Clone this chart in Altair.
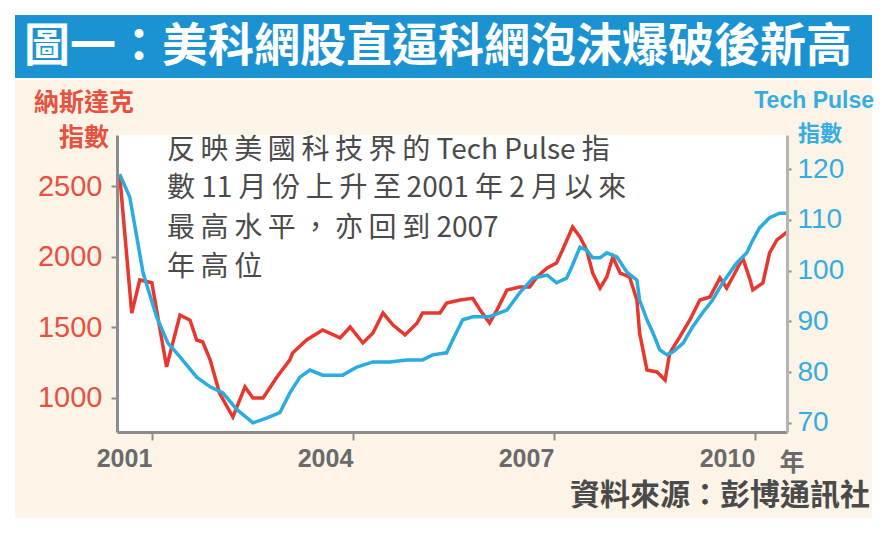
import altair as alt
import pandas as pd

# ---------------- data ----------------
nas_year = [2000.52, 2000.70, 2000.82, 2001.00, 2001.22, 2001.42, 2001.57, 2001.67, 2001.76,
            2001.87, 2002.01, 2002.21, 2002.39, 2002.51, 2002.66, 2002.87, 2003.06, 2003.10,
            2003.31, 2003.55, 2003.81, 2003.96, 2004.15, 2004.30, 2004.45, 2004.60, 2004.78,
            2004.96, 2005.04, 2005.30, 2005.40, 2005.60, 2005.79, 2005.90, 2006.04, 2006.15,
            2006.30, 2006.49, 2006.64, 2006.75, 2006.90, 2007.04, 2007.13, 2007.28, 2007.39,
            2007.49, 2007.58, 2007.69, 2007.79, 2007.88, 2007.99, 2008.13, 2008.24, 2008.28,
            2008.39, 2008.54, 2008.66, 2008.73, 2008.88, 2009.03, 2009.18, 2009.33, 2009.48,
            2009.58, 2009.67, 2009.82, 2009.93, 2009.97, 2010.12, 2010.22, 2010.33, 2010.48]
nas_value = [2578, 1600, 1835, 1815, 1220, 1587, 1550, 1410, 1396,
             1270, 1035, 865, 1078, 1000, 1000, 1150, 1270, 1318,
             1410, 1481, 1425, 1502, 1389, 1460, 1601, 1516, 1446,
             1531, 1601, 1601, 1672, 1693, 1705, 1622, 1531, 1622,
             1764, 1785, 1785, 1856, 1920, 1955, 2047, 2210, 2139,
             2047, 1884, 1778, 1856, 1998, 1884, 1856, 1693, 1460,
             1198, 1184, 1127, 1318, 1432, 1552, 1693, 1715, 1849,
             1778, 1856, 1990, 1835, 1764, 1814, 2026, 2118, 2174]

tp_year = [2000.52, 2000.67, 2000.87, 2001.07, 2001.24, 2001.42, 2001.67, 2001.87, 2002.06,
           2002.27, 2002.51, 2002.72, 2002.91, 2003.06, 2003.21, 2003.36, 2003.55, 2003.85,
           2004.06, 2004.30, 2004.55, 2004.81, 2005.04, 2005.19, 2005.40, 2005.49, 2005.64,
           2005.79, 2006.04, 2006.30, 2006.49, 2006.69, 2006.90, 2007.04, 2007.19, 2007.28,
           2007.39, 2007.49, 2007.58, 2007.69, 2007.79, 2007.94, 2008.09, 2008.24, 2008.28,
           2008.39, 2008.48, 2008.58, 2008.69, 2008.78, 2008.93, 2009.07, 2009.22, 2009.37,
           2009.52, 2009.73, 2009.88, 2009.97, 2010.07, 2010.22, 2010.37, 2010.48]
tp_value = [119.0, 114.5, 99.5, 90.9, 85.7, 83.0, 79.0, 77.1, 75.9,
            72.6, 70.0, 71.0, 72.0, 75.9, 79.0, 80.4, 79.4, 79.4,
            81.0, 82.0, 82.0, 82.4, 82.4, 83.4, 83.8, 86.3, 90.3,
            90.9, 90.9, 92.2, 95.6, 98.5, 99.1, 97.6, 98.5, 101.1,
            104.6, 104.0, 102.5, 102.5, 103.5, 102.7, 99.7, 98.1, 94.2,
            90.3, 87.7, 84.4, 83.4, 84.0, 85.7, 88.9, 91.7, 94.2,
            97.6, 101.5, 103.5, 106.0, 108.4, 110.4, 111.3, 111.3]

x_ticks = [2001, 2004, 2007, 2010]
left_ticks = [1000, 1500, 2000, 2500]
right_ticks = [70, 80, 90, 100, 110, 120]

title_text = "圖一：美科網股直逼科網泡沫爆破後新高"
left_title = ["納斯達克", "指數"]
right_title = ["Tech Pulse", "指數"]
note_lines = ["反映美國科技界的 Tech Pulse 指",
              "數 11 月份上升至2001 年 2 月以來",
              "最高水平，亦回到 2007",
              "年高位"]
year_unit = "年"
source_text = "資料來源：彭博通訊社"

# ---------------- styling ----------------
RED = "#e8372c"
RED_TXT = "#e8503f"
BLUE = "#2aace3"
BLUE_TXT = "#35ade2"
BAR = "#1b93d3"
CREAM = "#fdf4e8"
GRAY = "#8c8c8c"
TXT = "#4a4a4a"
CJK = "Noto Sans CJK TC"
NUM = "Liberation Sans"

W, H = 670, 297
OX, OY = 117, 135  # plot origin on the page

one = alt.Data(values=[{}])


def spaced(s):
    """Loosen CJK glyph spacing with thin spaces, like the printed original."""
    out = []
    for i, ch in enumerate(s):
        out.append(ch)
        nxt = s[i + 1] if i + 1 < len(s) else ""
        if nxt and ord(ch) > 0x2E80 and nxt != " ":
            out.append("\u2009")
    return "".join(out)


def rect(x1, y1, x2, y2, color):
    return alt.Chart(one).mark_rect(color=color).encode(
        x=alt.value(x1 - OX), x2=alt.value(x2 - OX),
        y=alt.value(y1 - OY), y2=alt.value(y2 - OY))


def label(txt, x, y, size, color, align="left", weight="normal", font=CJK):
    return alt.Chart(one).mark_text(
        text=txt, align=align, baseline="middle", fontSize=size,
        color=color, fontWeight=weight, font=font).encode(
        x=alt.value(x - OX), y=alt.value(y - OY))


bar = rect(15, 15, 872, 78, BAR)
panel = rect(15, 80, 872, 518, CREAM)
plotbg = rect(OX, OY, OX + W, OY + H, "white")

nas_df = pd.DataFrame({"year": nas_year, "nasdaq": nas_value})
tp_df = pd.DataFrame({"year": tp_year, "tp": tp_value})

xenc = alt.X("year:Q", scale=alt.Scale(domain=[2000.48, 2010.48], nice=False, zero=False),
             axis=alt.Axis(values=x_ticks, format="d", title=None, grid=False, zindex=2,
                           domainColor=GRAY, domainWidth=3, tickColor=GRAY, tickWidth=2,
                           tickSize=8, labelColor="#6a6a6a", labelFontSize=25,
                           labelFont=NUM, labelFontWeight="bold", labelAlign="right",
                           labelPadding=6, labelFlush=False, labelOverlap=False))

red_line = alt.Chart(nas_df).mark_line(color=RED, strokeWidth=3.5).encode(
    x=xenc,
    y=alt.Y("nasdaq:Q", scale=alt.Scale(domain=[759, 2861], nice=False, zero=False),
            axis=alt.Axis(orient="left", values=left_ticks, format="d", title=None,
                          grid=False, zindex=2,
                          domainColor=GRAY, domainWidth=3, tickColor=GRAY, tickWidth=2,
                          tickSize=6, labelColor=RED_TXT, labelFontSize=29,
                          labelFont=NUM, labelPadding=9)))

blue_line = alt.Chart(tp_df).mark_line(color=BLUE, strokeWidth=3.5).encode(
    x=alt.X("year:Q"),
    y=alt.Y("tp:Q", scale=alt.Scale(domain=[68.2, 126.7], nice=False, zero=False),
            axis=alt.Axis(orient="right", values=right_ticks, format="d", title=None,
                          grid=False, zindex=2,
                          domainColor="#b5b5b5", domainWidth=3, tickColor=GRAY, tickWidth=2,
                          tickSize=4, labelColor=BLUE_TXT, labelFontSize=28,
                          labelFont=NUM, labelPadding=6)))

texts = [
    label(title_text, 24, 47, 46, "white", weight="bold"),
    label(left_title[0], 84, 103, 25, RED_TXT, align="center", weight="bold"),
    label(left_title[1], 84, 138, 25, RED_TXT, align="center", weight="bold"),
    label(right_title[0], 874, 101, 23, BLUE_TXT, align="right", weight="bold",
          font=NUM),
    label(right_title[1], 820, 134, 22, BLUE_TXT, align="center", weight="bold"),
    label(spaced(note_lines[0]), 167, 151, 28, TXT),
    label(spaced(note_lines[1]), 167, 189, 28, TXT),
    label(spaced(note_lines[2]), 167, 229, 28, TXT),
    label(spaced(note_lines[3]), 167, 268, 28, TXT),
    label(year_unit, 792, 463, 25, "#6a6a6a", align="center", weight="bold"),
    label(source_text, 870, 496, 30, TXT, align="right", weight="bold"),
]

chart = alt.layer(bar, panel, plotbg, red_line, blue_line, *texts).resolve_scale(
    y="independent"
).properties(
    width=W, height=H,
    autosize=alt.AutoSizeParams(type="none"),
    padding={"left": OX - 8, "top": OY - 8, "right": 866 - (OX - 8) - W, "bottom": 92},
    background="white",
).configure_view(stroke=None)

chart.save("out.html", embed_options={"renderer": "svg", "actions": False})
